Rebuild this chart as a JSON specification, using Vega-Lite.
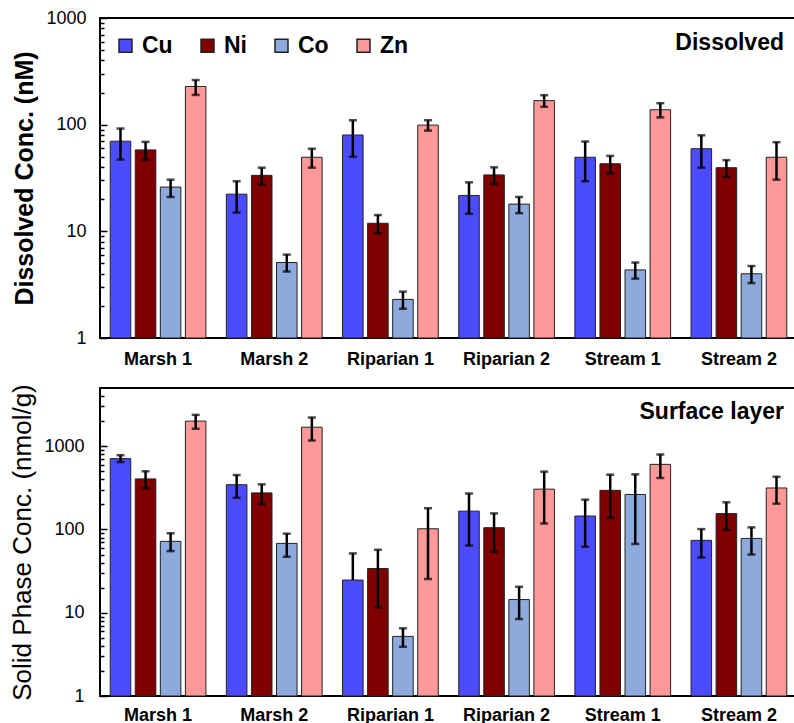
{
  "$schema": "https://vega.github.io/schema/vega-lite/v6.json",
  "padding": {"left": 8, "top": 8, "right": 0, "bottom": 0},
  "background": "white",
  "config": {
    "font": "Liberation Sans",
    "view": {"stroke": "black", "strokeWidth": 2},
    "axis": {"labelFont": "Liberation Sans", "titleFont": "Liberation Sans", "labelColor": "black", "titleColor": "black", "grid": false}
  },
  "spacing": 13,
  "datasets": {
    "dis": [
      {"site": "Marsh 1", "metal": "Cu", "v": 70, "lo": 47, "hi": 92},
      {"site": "Marsh 1", "metal": "Ni", "v": 58, "lo": 47, "hi": 69},
      {"site": "Marsh 1", "metal": "Co", "v": 26, "lo": 21, "hi": 30.5},
      {"site": "Marsh 1", "metal": "Zn", "v": 228, "lo": 190, "hi": 262},
      {"site": "Marsh 2", "metal": "Cu", "v": 22.3, "lo": 15, "hi": 29.5},
      {"site": "Marsh 2", "metal": "Ni", "v": 33.5, "lo": 27.5, "hi": 39.5},
      {"site": "Marsh 2", "metal": "Co", "v": 5.1, "lo": 4.2, "hi": 6.05},
      {"site": "Marsh 2", "metal": "Zn", "v": 49.5, "lo": 39.5, "hi": 59.5},
      {"site": "Riparian 1", "metal": "Cu", "v": 80, "lo": 50, "hi": 110},
      {"site": "Riparian 1", "metal": "Ni", "v": 11.9, "lo": 9.6, "hi": 14.2},
      {"site": "Riparian 1", "metal": "Co", "v": 2.3, "lo": 1.88, "hi": 2.72},
      {"site": "Riparian 1", "metal": "Zn", "v": 99, "lo": 88, "hi": 110},
      {"site": "Riparian 2", "metal": "Cu", "v": 21.7, "lo": 14.6, "hi": 28.8},
      {"site": "Riparian 2", "metal": "Ni", "v": 33.8, "lo": 27.8, "hi": 39.8},
      {"site": "Riparian 2", "metal": "Co", "v": 18, "lo": 14.8, "hi": 21},
      {"site": "Riparian 2", "metal": "Zn", "v": 168, "lo": 147, "hi": 189},
      {"site": "Stream 1", "metal": "Cu", "v": 49.5, "lo": 29.5, "hi": 69.5},
      {"site": "Stream 1", "metal": "Ni", "v": 43, "lo": 35, "hi": 51},
      {"site": "Stream 1", "metal": "Co", "v": 4.35, "lo": 3.6, "hi": 5.1},
      {"site": "Stream 1", "metal": "Zn", "v": 138, "lo": 117, "hi": 159},
      {"site": "Stream 2", "metal": "Cu", "v": 59.5, "lo": 39.5, "hi": 79.5},
      {"site": "Stream 2", "metal": "Ni", "v": 39.5, "lo": 32.5, "hi": 46.5},
      {"site": "Stream 2", "metal": "Co", "v": 4, "lo": 3.27, "hi": 4.73},
      {"site": "Stream 2", "metal": "Zn", "v": 49.5, "lo": 30.5, "hi": 68.5}
    ],
    "sol": [
      {"site": "Marsh 1", "metal": "Cu", "v": 710, "lo": 645, "hi": 780},
      {"site": "Marsh 1", "metal": "Ni", "v": 405, "lo": 312, "hi": 500},
      {"site": "Marsh 1", "metal": "Co", "v": 72, "lo": 55, "hi": 90},
      {"site": "Marsh 1", "metal": "Zn", "v": 2000, "lo": 1620, "hi": 2380},
      {"site": "Marsh 2", "metal": "Cu", "v": 345, "lo": 240, "hi": 450},
      {"site": "Marsh 2", "metal": "Ni", "v": 275, "lo": 202, "hi": 348},
      {"site": "Marsh 2", "metal": "Co", "v": 68, "lo": 47, "hi": 89},
      {"site": "Marsh 2", "metal": "Zn", "v": 1690, "lo": 1170, "hi": 2210},
      {"site": "Riparian 1", "metal": "Cu", "v": 24.7, "lo": 24.7, "hi": 51.6},
      {"site": "Riparian 1", "metal": "Ni", "v": 34, "lo": 11.6, "hi": 57},
      {"site": "Riparian 1", "metal": "Co", "v": 5.2, "lo": 3.9, "hi": 6.5},
      {"site": "Riparian 1", "metal": "Zn", "v": 102, "lo": 25.4, "hi": 180},
      {"site": "Riparian 2", "metal": "Cu", "v": 166, "lo": 64, "hi": 270},
      {"site": "Riparian 2", "metal": "Ni", "v": 105, "lo": 54, "hi": 156},
      {"site": "Riparian 2", "metal": "Co", "v": 14.4, "lo": 8.4, "hi": 20.5},
      {"site": "Riparian 2", "metal": "Zn", "v": 305, "lo": 118, "hi": 495},
      {"site": "Stream 1", "metal": "Cu", "v": 145, "lo": 62, "hi": 228},
      {"site": "Stream 1", "metal": "Ni", "v": 295, "lo": 138, "hi": 455},
      {"site": "Stream 1", "metal": "Co", "v": 263, "lo": 67, "hi": 459},
      {"site": "Stream 1", "metal": "Zn", "v": 605, "lo": 415, "hi": 795},
      {"site": "Stream 2", "metal": "Cu", "v": 74, "lo": 46, "hi": 101},
      {"site": "Stream 2", "metal": "Ni", "v": 155, "lo": 99, "hi": 212},
      {"site": "Stream 2", "metal": "Co", "v": 78, "lo": 50, "hi": 106},
      {"site": "Stream 2", "metal": "Zn", "v": 315, "lo": 204, "hi": 430}
    ]
  },
  "resolve": {"scale": {"color": "independent"}, "legend": {"color": "independent"}},
  "vconcat": [
    {
      "width": 697,
      "height": 320,
      "data": {"name": "dis"},
      "encoding": {
        "x": {"field": "site", "type": "nominal", "sort": null, "scale": {"paddingInner": 0, "paddingOuter": 0},
              "axis": {"title": null, "labelAngle": 0, "ticks": false, "domain": false, "labelPadding": 12, "labelFontSize": 18, "labelFontWeight": "bold"}}
      },
      "layer": [
        {
          "mark": {"type": "bar", "stroke": "#222", "strokeWidth": 1},
          "encoding": {
            "xOffset": {"field": "metal", "type": "nominal", "sort": ["Cu", "Ni", "Co", "Zn"], "scale": {"paddingInner": 0.18, "paddingOuter": 0.408}},
            "y": {"field": "v", "type": "quantitative", "stack": null, "scale": {"type": "log", "domain": [1, 1000], "nice": false},
                  "axis": {"orient": "left", "title": "Dissolved Conc. (nM)", "titleFontSize": 25, "titleFontWeight": "bold", "titlePadding": 8, "values": [1, 10, 100, 1000], "format": "d", "ticks": false, "domain": false, "labelPadding": 14, "labelFontSize": 18}},
            "y2": {"datum": 1},
            "color": {"field": "metal", "type": "nominal", "scale": {"domain": ["Cu", "Ni", "Co", "Zn"], "range": ["#4B4BFF", "#800000", "#8EA9DB", "#FF9999"]},
                      "legend": {"orient": "none", "legendX": 14, "legendY": 16, "direction": "horizontal", "title": null, "symbolType": "square", "symbolSize": 169, "symbolStrokeColor": "#222", "symbolStrokeWidth": 1.5, "symbolOpacity": 1, "labelFont": "Liberation Sans", "labelFontSize": 23, "labelFontWeight": "bold", "labelColor": "black", "labelOffset": 5, "columnPadding": 23}}
          }
        },
        {
          "mark": {"type": "rule", "color": "black", "strokeWidth": 2.5},
          "encoding": {
            "xOffset": {"field": "metal", "type": "nominal", "sort": ["Cu", "Ni", "Co", "Zn"]},
            "y": {"field": "lo", "type": "quantitative", "axis": {"orient": "left", "title": null, "labels": false, "domain": false, "values": [2,3,4,5,6,7,8,9,20,30,40,50,60,70,80,90,200,300,400,500,600,700,800,900], "tickSize": -4, "tickWidth": 1.5, "tickColor": "black"}},
            "y2": {"field": "hi"}
          }
        },
        {
          "mark": {"type": "tick", "color": "black", "thickness": 2.5, "size": 8},
          "encoding": {
            "xOffset": {"field": "metal", "type": "nominal", "sort": ["Cu", "Ni", "Co", "Zn"]},
            "y": {"field": "hi", "type": "quantitative", "axis": {"orient": "left", "title": null, "labels": false, "domain": false, "values": [1, 10, 100, 1000], "tickSize": -7, "tickWidth": 1.5, "tickColor": "black"}}
          }
        },
        {
          "transform": [{"filter": "datum.lo < datum.v"}],
          "mark": {"type": "tick", "color": "black", "thickness": 2.5, "size": 8},
          "encoding": {
            "xOffset": {"field": "metal", "type": "nominal", "sort": ["Cu", "Ni", "Co", "Zn"]},
            "y": {"field": "lo", "type": "quantitative", "axis": null}
          }
        },
        {
          "data": {"values": [{"label": "Dissolved"}]},
          "mark": {"type": "text", "align": "right", "baseline": "alphabetic", "dx": -13, "fontSize": 23, "fontWeight": "bold", "font": "Liberation Sans", "color": "black"},
          "encoding": {
            "x": {"datum": "Stream 2", "bandPosition": 1},
            "y": {"datum": 505, "type": "quantitative", "axis": null},
            "text": {"field": "label"}
          }
        }
      ],
      "resolve": {"axis": {"y": "independent"}}
    },
    {
      "width": 697,
      "height": 308,
      "data": {"name": "sol"},
      "encoding": {
        "x": {"field": "site", "type": "nominal", "sort": null, "scale": {"paddingInner": 0, "paddingOuter": 0},
              "axis": {"title": null, "labelAngle": 0, "ticks": false, "domain": false, "labelPadding": 10, "labelFontSize": 18, "labelFontWeight": "bold"}}
      },
      "layer": [
        {
          "mark": {"type": "bar", "stroke": "#222", "strokeWidth": 1},
          "encoding": {
            "xOffset": {"field": "metal", "type": "nominal", "sort": ["Cu", "Ni", "Co", "Zn"], "scale": {"paddingInner": 0.18, "paddingOuter": 0.408}},
            "y": {"field": "v", "type": "quantitative", "stack": null, "scale": {"type": "log", "domain": [1, 5000], "nice": false},
                  "axis": {"orient": "left", "title": "Solid Phase Conc. (nmol/g)", "titleFontSize": 26, "titleFontWeight": "normal", "titlePadding": 8, "values": [1, 10, 100, 1000], "format": "d", "ticks": false, "domain": false, "labelPadding": 16, "labelFontSize": 18}},
            "y2": {"datum": 1},
            "color": {"field": "metal", "type": "nominal", "scale": {"domain": ["Cu", "Ni", "Co", "Zn"], "range": ["#4B4BFF", "#800000", "#8EA9DB", "#FF9999"]}, "legend": null}
          }
        },
        {
          "mark": {"type": "rule", "color": "black", "strokeWidth": 2.5},
          "encoding": {
            "xOffset": {"field": "metal", "type": "nominal", "sort": ["Cu", "Ni", "Co", "Zn"]},
            "y": {"field": "lo", "type": "quantitative", "axis": {"orient": "left", "title": null, "labels": false, "domain": false, "values": [2,3,4,5,6,7,8,9,20,30,40,50,60,70,80,90,200,300,400,500,600,700,800,900,2000,3000,4000], "tickSize": -4, "tickWidth": 1.5, "tickColor": "black"}},
            "y2": {"field": "hi"}
          }
        },
        {
          "mark": {"type": "tick", "color": "black", "thickness": 2.5, "size": 8},
          "encoding": {
            "xOffset": {"field": "metal", "type": "nominal", "sort": ["Cu", "Ni", "Co", "Zn"]},
            "y": {"field": "hi", "type": "quantitative", "axis": {"orient": "left", "title": null, "labels": false, "domain": false, "values": [1, 10, 100, 1000], "tickSize": -7, "tickWidth": 1.5, "tickColor": "black"}}
          }
        },
        {
          "transform": [{"filter": "datum.lo < datum.v"}],
          "mark": {"type": "tick", "color": "black", "thickness": 2.5, "size": 8},
          "encoding": {
            "xOffset": {"field": "metal", "type": "nominal", "sort": ["Cu", "Ni", "Co", "Zn"]},
            "y": {"field": "lo", "type": "quantitative", "axis": null}
          }
        },
        {
          "data": {"values": [{"label": "Surface layer"}]},
          "mark": {"type": "text", "align": "right", "baseline": "alphabetic", "dx": -13, "fontSize": 23, "fontWeight": "bold", "font": "Liberation Sans", "color": "black"},
          "encoding": {
            "x": {"datum": "Stream 2", "bandPosition": 1},
            "y": {"datum": 2094, "type": "quantitative", "axis": null},
            "text": {"field": "label"}
          }
        }
      ],
      "resolve": {"axis": {"y": "independent"}}
    }
  ]
}
